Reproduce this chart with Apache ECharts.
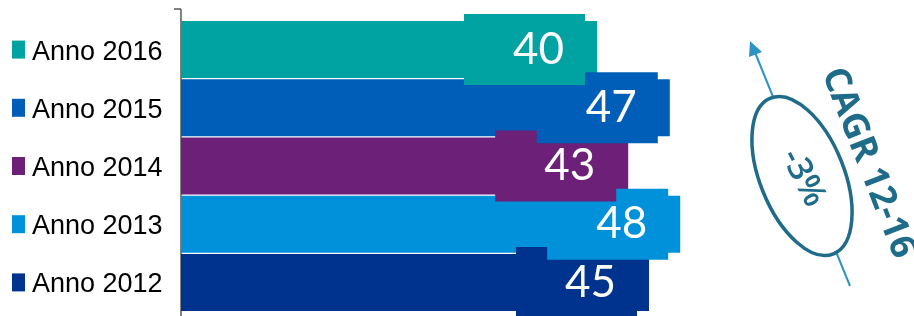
<!DOCTYPE html>
<html>
<head>
<meta charset="utf-8">
<script src="https://cdn.jsdelivr.net/npm/echarts@6/dist/echarts.min.js"></script>
<style>
  html, body { margin:0; padding:0; background:#fff; }
  #chart { width:914px; height:316px; }
</style>
</head>
<body>
<div id="chart"></div>
<script>
// bottom to top
const years = ['Anno 2012', 'Anno 2013', 'Anno 2014', 'Anno 2015', 'Anno 2016'];
const values = [45, 48, 43, 47, 40];
const barColors = ['#00338D', '#0091DA', '#6D2077', '#005EB8', '#00A3A1'];
const cagrLabel = 'CAGR 12-16';
const cagrValue = '-3%';

const myChart = echarts.init(document.getElementById('chart'));

let rich = { t:{ fontSize:27, fontFamily:'Liberation Sans, Arial', color:'#000', padding:[5,0,0,7] } };
barColors.forEach((c, i)=>{
    rich['s' + i] = { width:13, height:13, backgroundColor:c, padding:[5,0,0,0] };
});

const darkTeal = '#1F6B8A';

let option = {
    animation:false,
    grid:{ left:181, right:5, top:20.5, bottom:4.5 },
    xAxis:{ type:'value', min:0, max:70, show:false },
    yAxis:{
        type:'category',
        data:years,
        axisLine:{ show:false },
        axisTick:{ show:false },
        axisLabel:{
            align:'left',
            margin:169,
            formatter:(value, idx)=>'{s' + idx + '|}{t|' + value + '}',
            rich:rich
        }
    },
    series:[
        {
            type:'bar',
            barWidth:57,
            data:values.map((v, i)=>({
                value:v,
                itemStyle:{ color:barColors[i] },
                label:{ backgroundColor:barColors[i] }
            })),
            label:{
                show:true,
                position:'insideRight',
                distance:12,
                color:'#fff',
                fontSize:44,
                fontFamily:'Lato',
                width:100,
                align:'right',
                lineHeight:45,
                padding:[13,21,13,0]
            }
        }
    ],
    graphic:[
        // axis line with the top tick
        { type:'line', shape:{ x1:181, y1:9, x2:181, y2:316 }, style:{ stroke:'#595959', lineWidth:1.5 } },
        { type:'line', shape:{ x1:174, y1:9, x2:181, y2:9 }, style:{ stroke:'#595959', lineWidth:1.5 } },
        // CAGR arrow
        { type:'line', shape:{ x1:850, y1:286, x2:754, y2:50 }, style:{ stroke:'#2E94C4', lineWidth:2 } },
        { type:'polygon', shape:{ points:[[750,41],[762,52],[749,57]] }, style:{ fill:'#2E94C4' } },
        {
            type:'ellipse', x:802, y:176, rotation:0.384,
            shape:{ cx:0, cy:0, rx:42, ry:84 },
            style:{ fill:'#fff', stroke:darkTeal, lineWidth:3.5 }
        },
        {
            type:'text', x:803, y:178, rotation:-1.1,
            style:{ text:cagrValue, fill:darkTeal, fontSize:34, fontWeight:600, fontFamily:'Open Sans',
                    textAlign:'center', textVerticalAlign:'middle' }
        },
        {
            type:'text', x:868, y:163, rotation:-1.2,
            style:{ text:cagrLabel, fill:darkTeal, fontSize:36, fontWeight:'bold', fontFamily:'Open Sans',
                    textAlign:'center', textVerticalAlign:'middle' }
        }
    ]
};
myChart.setOption(option);
</script>
</body>
</html>
